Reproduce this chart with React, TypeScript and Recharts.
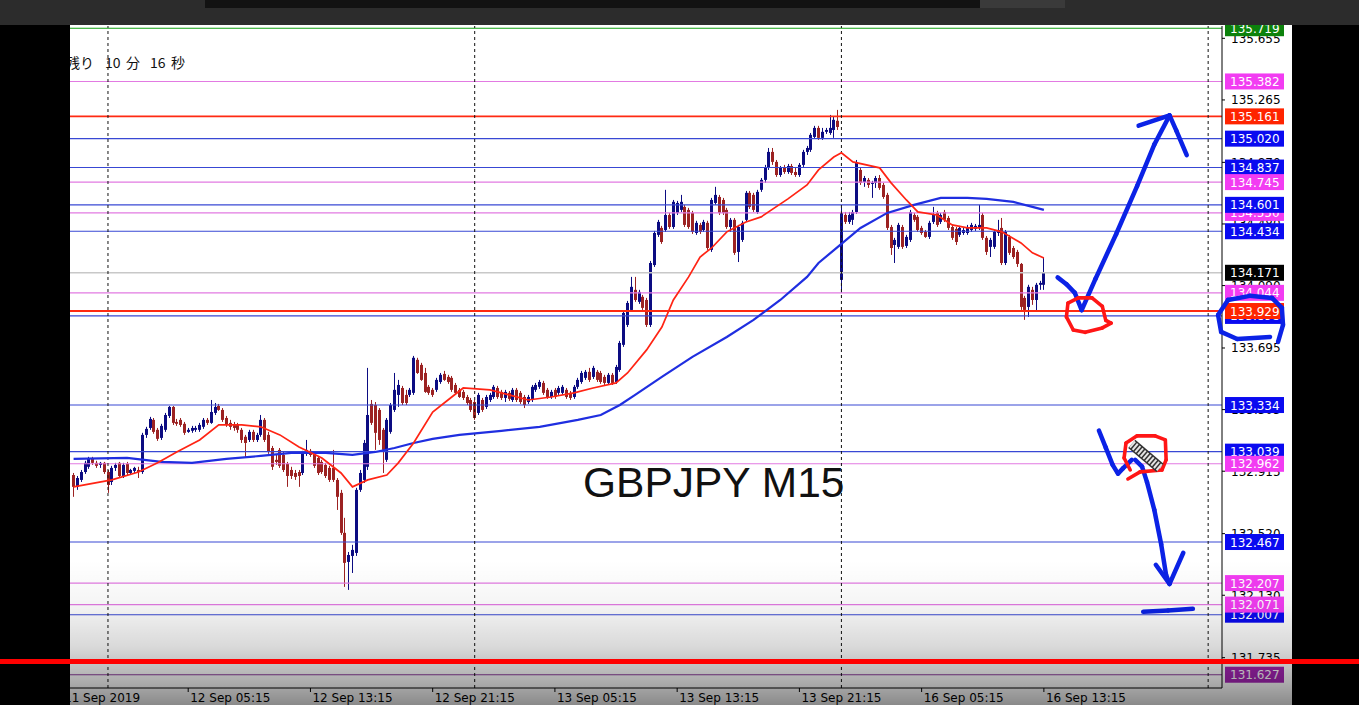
import React from 'react';
import { ComposedChart, Bar, Line, XAxis, YAxis, ReferenceLine } from 'recharts';

// ---- candle data (GBPJPY M15, 11 Sep 21:45 .. 16 Sep 13:15) ----
const opens = [
  132.891, 132.816, 132.860, 132.910, 132.943, 132.993, 132.968, 132.955, 132.968, 132.910,
  132.847, 132.936, 132.968, 132.885, 132.962, 132.904, 132.917, 132.923, 132.910, 133.145,
  133.189, 133.240, 133.177, 133.126, 133.177, 133.265, 133.322, 133.227, 133.240, 133.215,
  133.164, 133.171, 133.177, 133.177, 133.196, 133.240, 133.221, 133.284, 133.328, 133.303,
  133.252, 133.221, 133.208, 133.208, 133.177, 133.133, 133.113, 133.164, 133.113, 133.145,
  133.240, 133.145, 133.062, 132.987, 133.050, 133.018, 132.962, 132.923, 132.904, 132.910,
  132.904, 133.031, 133.044, 133.031, 132.999, 132.974, 132.955, 132.936, 132.936, 132.860,
  132.778, 132.525, 132.341, 132.379, 132.398, 132.797, 132.860, 132.943, 133.341, 133.334,
  133.303, 133.177, 132.987, 133.164, 133.303, 133.398, 133.442, 133.398, 133.398, 133.411,
  133.620, 133.588, 133.537, 133.449, 133.430, 133.430, 133.480, 133.531, 133.512, 133.506,
  133.461, 133.430, 133.417, 133.385, 133.366, 133.353, 133.284, 133.366, 133.322, 133.366,
  133.385, 133.442, 133.417, 133.379, 133.411, 133.366, 133.430, 133.411, 133.385, 133.353,
  133.366, 133.430, 133.449, 133.474, 133.430, 133.385, 133.430, 133.411, 133.411, 133.430,
  133.411, 133.385, 133.449, 133.480, 133.506, 133.544, 133.512, 133.544, 133.537, 133.512,
  133.474, 133.525, 133.480, 133.556, 133.715, 133.841, 133.936, 134.063, 133.987, 134.019,
  133.999, 133.841, 134.220, 134.411, 134.455, 134.442, 134.537, 134.461, 134.550, 134.569,
  134.588, 134.569, 134.550, 134.423, 134.474, 134.442, 134.487, 134.316, 134.613, 134.651,
  134.632, 134.569, 134.461, 134.506, 134.303, 134.379, 134.506, 134.677, 134.664, 134.556,
  134.696, 134.759, 134.835, 134.936, 134.873, 134.790, 134.835, 134.809, 134.847, 134.809,
  134.790, 134.854, 134.936, 134.949, 135.031, 135.088, 135.025, 135.063, 135.056, 135.075,
  135.133, 134.126, 134.537, 134.493, 134.506, 134.556, 134.822, 134.746, 134.759, 134.734,
  134.740, 134.771, 134.727, 134.664, 134.461, 134.347, 134.335, 134.461, 134.341, 134.379,
  134.537, 134.525, 134.455, 134.430, 134.398, 134.493, 134.550, 134.493, 134.556, 134.518,
  134.461, 134.449, 134.411, 134.423, 134.423, 134.442, 134.449, 134.455, 134.537, 134.392,
  134.335, 134.335, 134.423, 134.455, 134.233, 134.398, 134.328, 134.303, 134.227, 134.012,
  133.955, 134.063, 133.999, 134.095, 134.095,
];
const highs = [
  132.904, 132.885, 132.923, 132.981, 133.006, 133.006, 132.981, 132.974, 132.974, 132.923,
  132.949, 132.968, 132.974, 132.968, 132.974, 132.930, 132.943, 132.943, 133.158, 133.196,
  133.259, 133.252, 133.189, 133.215, 133.284, 133.328, 133.328, 133.246, 133.252, 133.227,
  133.189, 133.202, 133.202, 133.221, 133.252, 133.252, 133.366, 133.347, 133.341, 133.315,
  133.265, 133.240, 133.227, 133.221, 133.189, 133.145, 133.177, 133.177, 133.158, 133.271,
  133.252, 133.164, 133.075, 133.018, 133.062, 133.037, 132.974, 132.943, 132.923, 132.923,
  133.044, 133.113, 133.056, 133.037, 133.012, 132.987, 132.968, 132.949, 133.050, 132.872,
  132.797, 132.620, 132.404, 132.449, 132.810, 132.923, 133.113, 133.569, 133.366, 133.353,
  133.315, 133.189, 133.252, 133.347, 133.537, 133.493, 133.455, 133.430, 133.442, 133.645,
  133.633, 133.601, 133.569, 133.461, 133.442, 133.506, 133.537, 133.550, 133.525, 133.518,
  133.474, 133.442, 133.430, 133.398, 133.379, 133.366, 133.411, 133.379, 133.398, 133.411,
  133.461, 133.455, 133.430, 133.430, 133.423, 133.442, 133.442, 133.423, 133.398, 133.398,
  133.461, 133.474, 133.493, 133.487, 133.442, 133.430, 133.442, 133.455, 133.461, 133.442,
  133.423, 133.461, 133.506, 133.550, 133.556, 133.569, 133.582, 133.556, 133.550, 133.525,
  133.537, 133.537, 133.588, 133.740, 133.930, 133.993, 134.145, 134.145, 134.063, 134.031,
  134.012, 134.246, 134.436, 134.506, 134.468, 134.696, 134.550, 134.632, 134.626, 134.664,
  134.601, 134.582, 134.563, 134.500, 134.487, 134.506, 134.500, 134.645, 134.715, 134.664,
  134.645, 134.582, 134.518, 134.518, 134.474, 134.500, 134.689, 134.689, 134.677, 134.696,
  134.771, 134.854, 134.961, 134.961, 134.885, 134.847, 134.854, 134.860, 134.860, 134.835,
  134.866, 134.949, 134.974, 135.056, 135.101, 135.101, 135.088, 135.088, 135.170, 135.158,
  135.202, 134.582, 134.556, 134.556, 134.569, 134.885, 134.835, 134.784, 134.771, 134.753,
  134.784, 134.790, 134.740, 134.677, 134.474, 134.392, 134.487, 134.474, 134.411, 134.569,
  134.550, 134.537, 134.468, 134.442, 134.500, 134.588, 134.563, 134.550, 134.569, 134.531,
  134.474, 134.461, 134.468, 134.455, 134.474, 134.487, 134.480, 134.601, 134.550, 134.404,
  134.392, 134.442, 134.506, 134.518, 134.442, 134.411, 134.341, 134.316, 134.233, 134.025,
  134.095, 134.082, 134.107, 134.120, 134.271,
];
const lows = [
  132.753, 132.797, 132.847, 132.898, 132.930, 132.955, 132.936, 132.936, 132.898, 132.778,
  132.828, 132.917, 132.872, 132.872, 132.891, 132.891, 132.904, 132.872, 132.898, 133.126,
  133.177, 133.152, 133.107, 133.113, 133.164, 133.252, 133.208, 133.202, 133.196, 133.145,
  133.158, 133.158, 133.164, 133.164, 133.183, 133.208, 133.215, 133.271, 133.297, 133.227,
  133.196, 133.177, 133.171, 133.158, 133.094, 132.999, 133.100, 133.100, 133.100, 133.133,
  133.100, 133.025, 132.923, 132.955, 132.936, 132.910, 132.816, 132.866, 132.860, 132.816,
  132.891, 133.012, 133.006, 132.936, 132.891, 132.898, 132.872, 132.847, 132.847, 132.670,
  132.512, 132.183, 132.164, 132.271, 132.379, 132.784, 132.841, 132.923, 133.208, 133.050,
  133.082, 132.904, 132.974, 133.152, 133.290, 133.322, 133.334, 133.334, 133.385, 133.398,
  133.531, 133.487, 133.411, 133.398, 133.385, 133.417, 133.468, 133.487, 133.468, 133.417,
  133.398, 133.379, 133.366, 133.334, 133.290, 133.240, 133.271, 133.290, 133.309, 133.353,
  133.373, 133.373, 133.366, 133.353, 133.360, 133.353, 133.353, 133.341, 133.315, 133.341,
  133.353, 133.417, 133.436, 133.398, 133.373, 133.373, 133.373, 133.398, 133.398, 133.373,
  133.366, 133.373, 133.436, 133.468, 133.493, 133.480, 133.499, 133.480, 133.468, 133.461,
  133.461, 133.461, 133.468, 133.544, 133.702, 133.828, 133.923, 133.987, 133.974, 133.936,
  133.828, 133.828, 134.208, 134.398, 134.354, 134.430, 134.449, 134.449, 134.537, 134.556,
  134.461, 134.449, 134.417, 134.411, 134.417, 134.430, 134.316, 134.303, 134.601, 134.537,
  134.537, 134.449, 134.430, 134.284, 134.239, 134.366, 134.493, 134.575, 134.556, 134.544,
  134.683, 134.740, 134.822, 134.854, 134.778, 134.778, 134.797, 134.797, 134.790, 134.778,
  134.778, 134.841, 134.917, 134.936, 135.018, 135.012, 135.012, 135.050, 135.044, 135.025,
  135.075, 134.044, 134.480, 134.480, 134.474, 134.544, 134.727, 134.715, 134.708, 134.645,
  134.708, 134.696, 134.639, 134.442, 134.284, 134.233, 134.322, 134.322, 134.328, 134.366,
  134.493, 134.430, 134.411, 134.392, 134.385, 134.480, 134.461, 134.480, 134.493, 134.442,
  134.379, 134.347, 134.398, 134.411, 134.411, 134.430, 134.436, 134.442, 134.379, 134.284,
  134.271, 134.322, 134.404, 134.220, 134.220, 134.284, 134.259, 134.208, 133.936, 133.873,
  133.892, 133.968, 133.923, 134.063, 134.063,
];
const closes = [
  132.816, 132.872, 132.910, 132.968, 132.993, 132.968, 132.949, 132.968, 132.910, 132.828,
  132.936, 132.955, 132.885, 132.955, 132.904, 132.923, 132.936, 132.910, 133.145, 133.183,
  133.246, 133.164, 133.120, 133.202, 133.271, 133.322, 133.221, 133.215, 133.208, 133.158,
  133.177, 133.189, 133.189, 133.208, 133.240, 133.221, 133.290, 133.322, 133.303, 133.240,
  133.208, 133.196, 133.189, 133.177, 133.113, 133.094, 133.164, 133.113, 133.145, 133.240,
  133.113, 133.037, 132.943, 132.974, 132.949, 132.923, 132.885, 132.885, 132.879, 132.885,
  133.031, 133.050, 133.018, 132.949, 132.904, 132.910, 132.885, 132.860, 132.860, 132.753,
  132.525, 132.335, 132.385, 132.417, 132.797, 132.904, 133.094, 133.271, 133.221, 133.158,
  133.113, 133.050, 133.240, 133.334, 133.430, 133.461, 133.347, 133.347, 133.430, 133.633,
  133.537, 133.493, 133.417, 133.411, 133.398, 133.493, 133.525, 133.493, 133.480, 133.430,
  133.411, 133.385, 133.379, 133.347, 133.303, 133.252, 133.398, 133.303, 133.385, 133.398,
  133.449, 133.385, 133.379, 133.417, 133.373, 133.430, 133.366, 133.353, 133.334, 133.385,
  133.449, 133.461, 133.480, 133.411, 133.385, 133.417, 133.385, 133.442, 133.449, 133.385,
  133.379, 133.449, 133.493, 133.537, 133.544, 133.493, 133.569, 133.493, 133.480, 133.474,
  133.525, 133.474, 133.575, 133.727, 133.917, 133.980, 134.082, 133.999, 134.050, 133.949,
  133.841, 134.233, 134.423, 134.493, 134.366, 134.537, 134.461, 134.620, 134.613, 134.620,
  134.474, 134.461, 134.430, 134.487, 134.430, 134.493, 134.328, 134.632, 134.664, 134.550,
  134.550, 134.461, 134.506, 134.297, 134.461, 134.487, 134.677, 134.588, 134.569, 134.683,
  134.759, 134.835, 134.936, 134.873, 134.790, 134.835, 134.809, 134.847, 134.803, 134.790,
  134.854, 134.936, 134.961, 135.044, 135.088, 135.025, 135.063, 135.075, 135.088, 135.139,
  135.094, 134.550, 134.493, 134.537, 134.556, 134.866, 134.740, 134.771, 134.727, 134.740,
  134.771, 134.708, 134.651, 134.455, 134.328, 134.379, 134.474, 134.335, 134.398, 134.556,
  134.506, 134.442, 134.423, 134.398, 134.487, 134.537, 134.474, 134.537, 134.506, 134.455,
  134.392, 134.366, 134.455, 134.442, 134.461, 134.474, 134.468, 134.474, 134.392, 134.303,
  134.379, 134.430, 134.442, 134.233, 134.430, 134.297, 134.271, 134.227, 133.955, 133.936,
  134.082, 133.999, 134.095, 134.107, 134.171,
];

// ---- moving averages (read at sample bars) ----
const fastIdx = [0, 10, 17, 22, 27, 33, 38, 44, 49, 54, 59, 65, 70, 73, 77, 82, 85, 89, 94, 98, 102, 109, 114, 119, 125, 131, 136, 142, 145, 150, 154, 157, 161, 164, 167, 171, 176, 180, 187, 192, 195, 199, 201, 204, 211, 214, 218, 221, 226, 230, 234, 239, 243, 248, 251, 254];
const fastVal = [132.816, 132.860, 132.910, 132.968, 133.037, 133.113, 133.208, 133.208, 133.196, 133.145, 133.069, 132.999, 132.904, 132.816, 132.860, 132.891, 132.968, 133.094, 133.290, 133.366, 133.442, 133.430, 133.398, 133.366, 133.385, 133.411, 133.442, 133.474, 133.537, 133.683, 133.828, 133.999, 134.145, 134.271, 134.328, 134.430, 134.493, 134.525, 134.639, 134.727, 134.822, 134.904, 134.930, 134.873, 134.835, 134.740, 134.632, 134.556, 134.537, 134.474, 134.455, 134.455, 134.430, 134.360, 134.297, 134.265];
const slowIdx = [0, 14, 23, 31, 40, 49, 57, 66, 73, 79, 84, 89, 94, 101, 112, 122, 132, 138, 143, 147, 154, 162, 171, 178, 185, 192, 195, 201, 206, 213, 220, 227, 234, 239, 246, 251, 254];
const slowVal = [132.993, 132.999, 132.974, 132.968, 132.993, 133.012, 133.031, 133.031, 133.018, 133.037, 133.062, 133.094, 133.120, 133.145, 133.171, 133.196, 133.240, 133.271, 133.334, 133.398, 133.512, 133.639, 133.765, 133.873, 133.999, 134.145, 134.233, 134.354, 134.455, 134.550, 134.601, 134.645, 134.645, 134.639, 134.620, 134.588, 134.569];

// ---- axes ----
const xTickValues = [-0.942, 30, 62, 94, 126, 158, 190, 222, 254];
const xTickLabels = ['11 Sep 2019', '12 Sep 05:15', '12 Sep 13:15', '12 Sep 21:15', '13 Sep 05:15', '13 Sep 13:15', '13 Sep 21:15', '16 Sep 05:15', '16 Sep 13:15'];
const daySeparators = [9, 105, 201, 297];
const yTicks = [135.655, 135.265, 134.870, 134.480, 134.090, 133.695, 133.305, 132.915, 132.520, 132.130, 131.735];

// ---- horizontal price levels ----
const levelPrices = [135.719, 135.382, 135.161, 135.020, 134.837, 134.745, 134.550, 134.601, 134.434, 134.171, 134.044, 133.898, 133.929, 133.334, 133.039, 132.962, 132.467, 132.207, 132.007, 132.071, 131.627];
const levelKinds = ['green', 'magenta', 'red', 'blue', 'blue', 'magenta', 'magenta', 'blue', 'blue', 'bid', 'magenta', 'blue', 'red', 'blue', 'blue', 'magenta', 'blue', 'magenta', 'blue', 'magenta', 'purple'];

// ---- hand-drawn annotations [bar index, price] ----
const blueStrokes: number[][][] = [
  [[257.6, 134.142], [259.9, 134.099], [262.1, 134.044], [263.9, 133.935], [267.5, 134.132], [272.9, 134.415], [278.4, 134.720], [282.9, 134.982], [286.9, 135.167]],
  [[278.8, 135.102], [286.9, 135.167], [288.7, 135.069], [291.4, 134.916]],
  [[268.4, 133.173], [270.2, 133.064], [272.0, 132.955], [273.4, 132.900], [274.7, 132.933], [277.0, 132.987]],
  [[277.9, 132.987], [279.7, 132.944], [281.0, 132.846], [282.9, 132.671], [284.7, 132.453], [286.0, 132.257], [286.9, 132.202]],
  [[283.3, 132.323], [286.9, 132.202], [290.5, 132.399]],
  [[280.0, 132.025], [286.5, 132.034], [293.0, 132.044]],
  [[313.2, 133.765], [304.6, 133.752], [300.4, 133.797], [299.6, 133.904], [302.2, 133.999], [307.9, 134.025], [313.7, 134.012], [316.3, 133.949], [316.6, 133.841], [315.3, 133.733]],
];
const redStrokes: number[][][] = [
  [[260.3, 133.979], [263.0, 134.012], [266.6, 134.012], [269.3, 133.958], [270.2, 133.870], [271.6, 133.852], [269.3, 133.822], [264.8, 133.794], [261.7, 133.809], [259.9, 133.892], [260.3, 133.979]],
  [[276.0, 132.866], [279.2, 132.911], [284.9, 132.923], [286.0, 132.987], [285.8, 133.113], [283.1, 133.139], [278.4, 133.139], [275.5, 133.094], [275.0, 132.999], [276.6, 132.923]],
];
const pencil = [[277.0, 133.088], [284.4, 132.936]];

const BULL = '#0c0c82';
const BEAR = '#9c2222';
const lineColor: Record<string, string> = {
  green: '#10a010', magenta: '#e27ae2', red: '#ff2a12', blue: '#3848d4', bid: '#c8c8c8', purple: '#8c3c9c',
};
const labelFill: Record<string, string> = {
  green: '#0c820c', magenta: '#f23cf2', red: '#ff2400', blue: '#0a0af0', bid: '#000000', purple: '#a424b4',
};
const FONT = '"DejaVu Sans", Verdana, sans-serif';

const data = opens.map((o, i) => {
  const fi = fastIdx.indexOf(i);
  const si = slowIdx.indexOf(i);
  return {
    i, o, h: highs[i], l: lows[i], c: closes[i],
    range: [lows[i], highs[i]],
    fast: fi >= 0 ? fastVal[fi] : null,
    slow: si >= 0 ? slowVal[si] : null,
  };
});

const Candle = (props: any) => {
  const { x, y, width, height, payload } = props;
  if (x == null || y == null || !payload) return null;
  const { o, h, l, c } = payload;
  const top = Math.min(y, y + height);
  const hh = Math.abs(height);
  const span = h - l;
  const yOf = (v: number) => (span > 0 ? top + ((h - v) / span) * hh : top);
  const cx = Math.round(x + width / 2);
  const color = c >= o ? BULL : BEAR;
  const bTop = yOf(Math.max(o, c));
  const bBot = yOf(Math.min(o, c));
  return (
    <g>
      <line x1={cx + 0.5} x2={cx + 0.5} y1={top} y2={top + hh} stroke={color} strokeWidth={1} />
      <rect x={cx - 1} y={bTop} width={3} height={Math.max(1, bBot - bTop)} fill={color} />
    </g>
  );
};

const XTick = (props: any) => {
  const { x, y, payload } = props;
  const k = xTickValues.indexOf(payload.value);
  if (k < 0) return null;
  const first = k === 0;
  return (
    <g>
      {!first && <line x1={x} x2={x} y1={y} y2={y + 4} stroke="#000" />}
      <text x={first ? x - 6 : x + 2} y={y + 14} fontSize={12} fontFamily={FONT} fill="#000">
        {xTickLabels[k]}
      </text>
    </g>
  );
};

const YTick = (props: any) => {
  const { x, y, payload } = props;
  const v = payload.value as number;
  const k = levelPrices.indexOf(v);
  if (k < 0) {
    return (
      <g>
        <line x1={x} x2={x + 3} y1={y} y2={y} stroke="#000" />
        <text x={x + 9} y={y + 4.5} fontSize={12} fontFamily={FONT} fill="#000">{v.toFixed(3)}</text>
      </g>
    );
  }
  const kind = levelKinds[k];
  return (
    <g>
      <rect x={x + 3} y={y - 8} width={59} height={16} fill={labelFill[kind]} />
      <text x={x + 8} y={y + 4.5} fontSize={12} fontFamily={FONT} fill="#fff">{v.toFixed(3)}</text>
    </g>
  );
};

const strokeSegments = (strokes: number[][][], color: string, w: number, prefix: string) =>
  strokes.flatMap((s, si) =>
    s.slice(1).map((pt, k) => (
      <ReferenceLine
        key={`${prefix}-${si}-${k}`}
        segment={[{ x: s[k][0], y: s[k][1] }, { x: pt[0], y: pt[1] }]}
        stroke={color}
        strokeWidth={w}
        strokeLinecap="round"
        ifOverflow="visible"
        zIndex={2500}
      />
    )),
  );

export default function App() {
  return (
    <div style={{ position: 'absolute', left: 0, top: 0, width: 1359, height: 705, background: '#000', overflow: 'hidden' }}>
      <div style={{ position: 'absolute', left: 70, top: 25, width: 1222, height: 680, background: '#fff' }} />
      <div style={{ position: 'absolute', left: 0, top: 0 }}>
        <ComposedChart width={1359} height={705} data={data} margin={{ top: 26, right: 67, bottom: 0, left: 70 }}>
          <XAxis
            dataKey="i"
            type="number"
            domain={[-0.942, 300.628]}
            allowDataOverflow
            ticks={xTickValues}
            interval={0}
            tick={(p: any) => <XTick {...p} />}
            tickLine={false}
            tickSize={0}
            tickMargin={0}
            height={17}
            axisLine={{ stroke: '#000' }}
          />
          <YAxis
            orientation="right"
            type="number"
            domain={[131.543, 135.733]}
            allowDataOverflow
            ticks={[...yTicks, ...levelPrices]}
            interval={0}
            tick={(p: any) => <YTick {...p} />}
            tickLine={false}
            tickSize={0}
            tickMargin={0}
            width={70}
            axisLine={{ stroke: '#000' }}
          />
          {levelPrices.map((p, k) => (
            <ReferenceLine
              key={`lv-${k}`}
              y={p}
              stroke={lineColor[levelKinds[k]]}
              strokeWidth={levelKinds[k] === 'red' ? 1.8 : levelKinds[k] === 'bid' ? 1.5 : 1.1}
              ifOverflow="visible"
            />
          ))}
          {daySeparators.map((d) => (
            <ReferenceLine key={`ds-${d}`} x={d} stroke="#111" strokeDasharray="3 3" strokeWidth={1} />
          ))}
          <Bar dataKey="range" barSize={3} shape={(p: any) => <Candle {...p} />} isAnimationActive={false} />
          <Line dataKey="slow" stroke="#1f2ee0" strokeWidth={2.2} dot={false} connectNulls isAnimationActive={false} />
          <Line dataKey="fast" stroke="#ff2414" strokeWidth={1.7} dot={false} connectNulls isAnimationActive={false} />
          {strokeSegments(blueStrokes, '#0b22e6', 4.5, 'b')}
          {strokeSegments(redStrokes, '#ff1616', 3.6, 'r')}
          <ReferenceLine
            segment={[{ x: pencil[0][0], y: pencil[0][1] }, { x: pencil[1][0], y: pencil[1][1] }]}
            stroke="#333"
            strokeWidth={11}
            ifOverflow="visible"
            zIndex={2600}
          />
          <ReferenceLine
            segment={[{ x: pencil[0][0], y: pencil[0][1] }, { x: pencil[1][0], y: pencil[1][1] }]}
            stroke="#e4e4e4"
            strokeWidth={8}
            strokeDasharray="2 1.5"
            ifOverflow="visible"
            zIndex={2601}
          />
        </ComposedChart>
      </div>
      <svg width={1359} height={705} style={{ position: 'absolute', left: 0, top: 0, pointerEvents: 'none' }}>
        <defs>
          <linearGradient id="fade" x1="0" y1="0" x2="0" y2="1">
            <stop offset="0" stopColor="#000" stopOpacity={0} />
            <stop offset="0.3" stopColor="#000" stopOpacity={0.04} />
            <stop offset="0.6" stopColor="#000" stopOpacity={0.15} />
            <stop offset="0.85" stopColor="#000" stopOpacity={0.33} />
            <stop offset="1" stopColor="#000" stopOpacity={0.46} />
          </linearGradient>
        </defs>
        <text x={583} y={497} fontSize={42.5} fontFamily='"Liberation Sans", Arial, sans-serif' fill="#111">GBPJPY M15</text>
        <g fontFamily='"Noto Sans CJK JP", sans-serif' fontSize={14} fill="#111">
          <text x={66} y={68}>残り</text>
          <text x={105} y={68}>10</text>
          <text x={126} y={68}>分</text>
          <text x={150} y={68}>16</text>
          <text x={171} y={68}>秒</text>
        </g>
        <rect x={0} y={0} width={70} height={705} fill="#000" />
        <rect x={0} y={560} width={1359} height={145} fill="url(#fade)" />
        <rect x={0} y={0} width={1359} height={25} fill="#2c2c2c" />
        <rect x={205} y={0} width={775} height={8} fill="#121212" />
        <rect x={980} y={0} width={85} height={8} fill="#3a3a3a" />
        <rect x={0} y={659} width={1359} height={5} fill="#ff0000" />
      </svg>
    </div>
  );
}
